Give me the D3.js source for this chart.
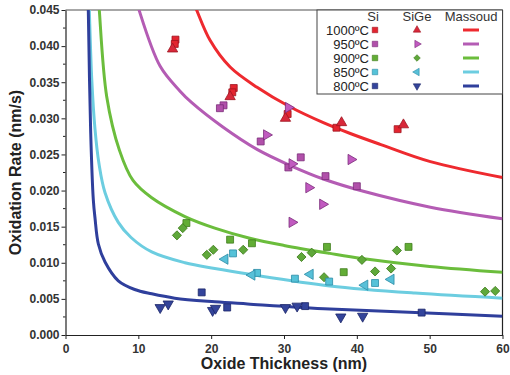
<!DOCTYPE html>
<html>
<head>
<meta charset="utf-8">
<script src="https://cdn.jsdelivr.net/npm/d3@7"></script>
<style>
  html, body { margin: 0; padding: 0; background: #fff; }
  svg { display: block; font-family: "Liberation Sans", Arial, sans-serif; }
</style>
</head>
<body>
<svg id="chart" width="510" height="375"></svg>
<script>
// Oxidation rate vs. oxide thickness: Si and SiGe measurements with Massoud model curves

const temperatures = ["1000ºC", "950ºC", "900ºC", "850ºC", "800ºC"];
const xTicks = [0, 10, 20, 30, 40, 50, 60];
const yTicks = [0, 0.005, 0.010, 0.015, 0.020, 0.025, 0.030, 0.035, 0.040, 0.045];

// Si measurements [thickness nm, rate nm/s]
const si1000 = [[15.1, .0409], [15.0, .0403], [23.1, .0342], [22.9, .0336], [30.5, .0306], [37.2, .0287], [45.6, .0285]];
const si950 = [[21.7, .0318], [21.2, .0314], [26.8, .0268], [32.3, .0246], [30.6, .0232], [35.7, .0220], [40.0, .0206]];
const si900 = [[16.6, .0155], [22.6, .0132], [25.6, .0127], [35.9, .0122], [38.2, .0087], [47.1, .0122]];
const si850 = [[23.0, .0113], [26.3, .0086], [31.5, .0078], [36.2, .0074], [42.5, .0072]];
const si800 = [[18.7, .0059], [22.2, .0038], [32.9, .0040], [48.9, .0031]];

// SiGe measurements [thickness nm, rate nm/s]
const sige1000 = [[14.7, .0396], [22.6, .0330], [30.2, .0300], [37.9, .0294], [46.4, .0291]];
const sige950 = [[27.6, .0277], [30.6, .0315], [31.1, .0237], [39.2, .0243], [33.4, .0204], [35.3, .0181], [31.1, .0156]];
const sige900 = [[15.3, .0138], [16.1, .0148], [19.4, .0111], [20.3, .0118], [24.4, .0118], [32.4, .0108], [33.8, .0114],
                 [40.7, .0104], [42.5, .0088], [44.7, .0092], [45.5, .0117], [35.5, .0080], [57.6, .0060], [59.0, .0061]];
const sige850 = [[21.9, .0105], [25.6, .0083], [33.6, .0084], [41.1, .0069], [44.7, .0077]];
const sige800 = [[13.0, .0038], [14.1, .0043], [20.2, .0034], [20.6, .0037], [30.2, .0038], [31.8, .0040], [37.8, .0025], [40.8, .0026]];

// Massoud model curves [thickness nm, rate nm/s]
const massoud1000 = [[17.2, .0470], [18.0, .0450], [19.85, .0408], [22.6, .0371], [26.3, .0343], [30.8, .0316], [35.4, .0294],
                     [39.1, .0279], [43.2, .0264], [50.1, .0240], [60, .0218]];
const massoud950 = [[9.7, .0465], [10.1, .0450], [13.0, .0372], [15.7, .0338], [17.3, .0322], [21.6, .0288], [26.3, .0257],
                    [30.8, .0235], [35.4, .0216], [40.9, .0199], [50.1, .0177], [60, .0161]];
const massoud900 = [[4.5, .0470], [4.64, .0450], [5.66, .0330], [7.4, .0256], [9.27, .0214], [11.84, .0190], [16.4, .0164],
                    [20.5, .0148], [25.3, .0134], [30, .0124], [36.3, .0113], [40.7, .0106], [50, .0095], [60, .0087]];
const massoud850 = [[3.2, .0470], [3.27, .0450], [3.6, .0355], [4.05, .0285], [4.6, .0237], [5.43, .0197], [7.25, .0156],
                    [9.0, .0135], [11.84, .0115], [16.4, .0100], [20.5, .0092], [25.3, .0084], [36.3, .0068], [48, .0058], [60, .0051]];
const massoud800 = [[3.1, .0470], [3.13, .0450], [3.46, .0280], [3.82, .0187], [4.05, .0162], [4.51, .0126], [5.43, .0101],
                    [7.25, .0075], [9.5, .0063], [11.84, .0057], [15, .0051], [20.5, .0046], [25, .0043], [36.3, .0036], [48, .0031], [60, .0026]];

const colors = {
  line: ["#ee2a2f", "#b45cb4", "#6bbd3c", "#6ccde0", "#2f3f9c"],
  fill: ["#e3242f", "#b150aa", "#62ad35", "#55c2d8", "#33449c"],
  stroke: ["#9e1420", "#7a2c78", "#3f7c1c", "#2c8ca6", "#1c2668"],
  sigeFill: ["#d8283a", "#c15ac0", "#5fa83a", "#58c0d8", "#34449a"]
};

const groups = [
  { si: si1000, sige: sige1000, model: massoud1000, shape: "up" },
  { si: si950, sige: sige950, model: massoud950, shape: "right" },
  { si: si900, sige: sige900, model: massoud900, shape: "diamond" },
  { si: si850, sige: sige850, model: massoud850, shape: "left" },
  { si: si800, sige: sige800, model: massoud800, shape: "down" }
];

const svg = d3.select("#chart");
const plot = { left: 65.5, right: 502.5, top: 10, bottom: 335 };

const x = d3.scaleLinear().domain([0, 60]).range([plot.left, plot.right]);
const y = d3.scaleLinear().domain([0, 0.045]).range([plot.bottom, plot.top]);

svg.append("defs").append("clipPath").attr("id", "plotClip")
  .append("rect")
  .attr("x", plot.left).attr("y", plot.top)
  .attr("width", plot.right - plot.left).attr("height", plot.bottom - plot.top);

// frame: grey top, black right
svg.append("line").attr("x1", plot.left).attr("x2", plot.right).attr("y1", plot.top).attr("y2", plot.top)
  .attr("stroke", "#8a8a8a").attr("stroke-width", 1.5);
svg.append("line").attr("x1", plot.right).attr("x2", plot.right).attr("y1", plot.top).attr("y2", plot.bottom)
  .attr("stroke", "#222").attr("stroke-width", 1.2);

// model curves
const line = d3.line().x(d => x(d[0])).y(d => y(d[1])).curve(d3.curveCatmullRom.alpha(0.5));
const curves = svg.append("g").attr("clip-path", "url(#plotClip)");
groups.forEach((g, i) => {
  curves.append("path").datum(g.model)
    .attr("d", line)
    .attr("fill", "none")
    .attr("stroke", colors.line[i])
    .attr("stroke-width", 3);
});

// marker shapes
function symbolPath(shape, size) {
  if (shape === "square") return d3.symbol(d3.symbolSquare, size)();
  if (shape === "diamond") return d3.symbol(d3.symbolSquare, size * 0.9)();
  return d3.symbol(d3.symbolTriangle, size)();
}
function symbolRotation(shape) {
  return { up: 0, right: 90, down: 180, left: -90, diamond: 45, square: 0 }[shape];
}

const marks = svg.append("g");
groups.forEach((g, i) => {
  marks.selectAll(null).data(g.si).join("path")
    .attr("d", symbolPath("square", 48))
    .attr("transform", d => `translate(${x(d[0])},${y(d[1])})`)
    .attr("fill", colors.fill[i])
    .attr("stroke", colors.stroke[i])
    .attr("stroke-width", 0.8);
  marks.selectAll(null).data(g.sige).join("path")
    .attr("d", symbolPath(g.shape, 46))
    .attr("transform", d => `translate(${x(d[0])},${y(d[1])}) rotate(${symbolRotation(g.shape)})`)
    .attr("fill", colors.sigeFill[i])
    .attr("stroke", colors.stroke[i])
    .attr("stroke-width", 0.8);
});

// axes
const xAxis = svg.append("g")
  .attr("transform", `translate(0,${plot.bottom})`)
  .call(d3.axisBottom(x).tickValues(xTicks).tickSize(4).tickSizeOuter(0).tickFormat(d3.format("d")));
const yAxis = svg.append("g")
  .attr("transform", `translate(${plot.left},0)`)
  .call(d3.axisLeft(y).tickValues(yTicks).tickSize(4).tickSizeOuter(0).tickFormat(d3.format(".3f")));

// minor ticks on the rate axis
const minor = d3.range(0, 9).map(k => yTicks[k] + 0.0025);
yAxis.selectAll(".minor").data(minor).join("line")
  .attr("class", "minor")
  .attr("x1", -2.5).attr("x2", 0)
  .attr("y1", d => y(d)).attr("y2", d => y(d))
  .attr("stroke", "#222");

[xAxis, yAxis].forEach(a => {
  a.select(".domain").attr("stroke", "#222").attr("stroke-width", 1.2);
  a.selectAll(".tick line").attr("stroke", "#222");
  a.selectAll(".tick text")
    .attr("font-family", "'Liberation Sans', Arial, sans-serif")
    .attr("font-size", 12)
    .attr("font-weight", "bold")
    .attr("fill", "#333");
});
xAxis.selectAll(".tick text").attr("dy", "0.95em");
yAxis.selectAll(".tick text").attr("x", -6);

// axis titles
svg.append("text")
  .attr("x", (plot.left + plot.right) / 2).attr("y", 369)
  .attr("text-anchor", "middle")
  .attr("font-size", 16).attr("font-weight", "bold").attr("fill", "#222")
  .text("Oxide Thickness (nm)");
svg.append("text")
  .attr("transform", `translate(21,${(plot.top + plot.bottom) / 2}) rotate(-90)`)
  .attr("text-anchor", "middle")
  .attr("font-size", 16).attr("font-weight", "bold").attr("fill", "#222")
  .text("Oxidation Rate (nm/s)");

// legend
const legend = svg.append("g");
legend.append("rect")
  .attr("x", 317).attr("y", plot.top).attr("width", plot.right - 317).attr("height", 84)
  .attr("fill", "#fff").attr("stroke", "#444").attr("stroke-width", 1);

const colSi = 375, colSiGe = 417, colModel = 471;
[["Si", colSi - 2], ["SiGe", colSiGe], ["Massoud", colModel]].forEach(([t, cx]) => {
  legend.append("text")
    .attr("x", cx).attr("y", 21)
    .attr("text-anchor", "middle")
    .attr("font-size", 13).attr("fill", "#333")
    .text(t);
});

temperatures.forEach((label, i) => {
  const cy = 30 + i * 14;
  legend.append("text")
    .attr("x", 369).attr("y", cy + 4.5)
    .attr("text-anchor", "end")
    .attr("font-size", 13).attr("fill", "#222")
    .text(label);
  legend.append("path")
    .attr("d", symbolPath("square", 30))
    .attr("transform", `translate(${colSi},${cy})`)
    .attr("fill", colors.fill[i]).attr("stroke", colors.stroke[i]).attr("stroke-width", 0.6);
  legend.append("path")
    .attr("d", symbolPath(groups[i].shape, 24))
    .attr("transform", `translate(${colSiGe},${cy}) rotate(${symbolRotation(groups[i].shape)})`)
    .attr("fill", colors.sigeFill[i]).attr("stroke", colors.stroke[i]).attr("stroke-width", 0.6);
  legend.append("line")
    .attr("x1", colModel - 8).attr("x2", colModel + 8)
    .attr("y1", cy).attr("y2", cy)
    .attr("stroke", colors.line[i]).attr("stroke-width", 3);
});
</script>
</body>
</html>
